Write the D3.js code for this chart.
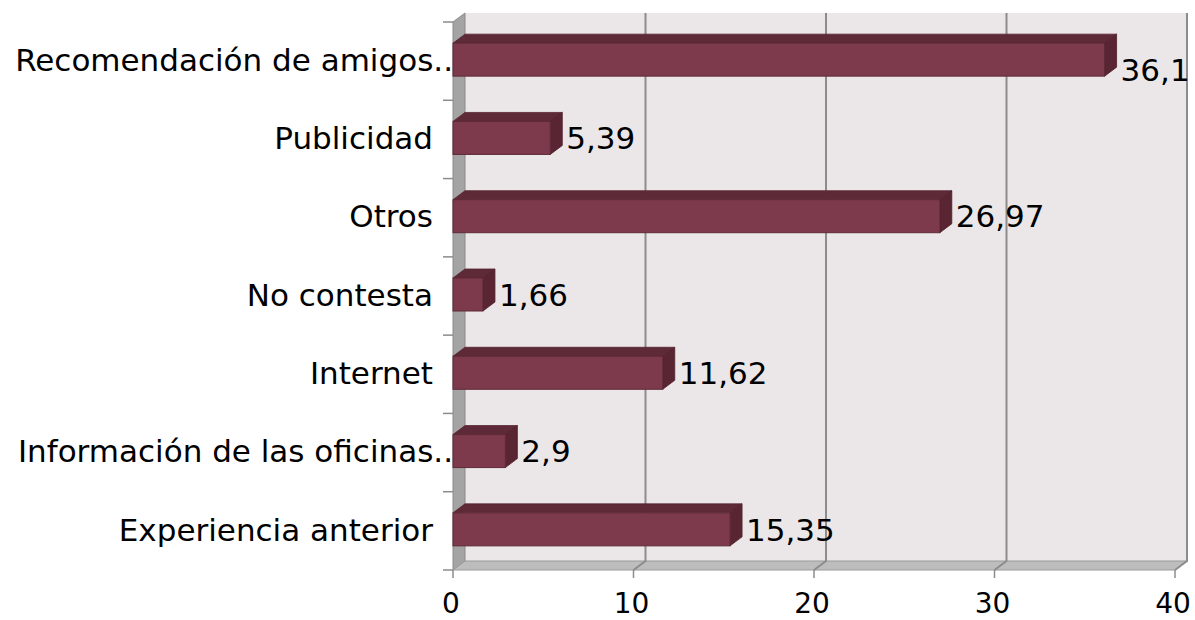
<!DOCTYPE html>
<html>
<head>
<meta charset="utf-8">
<script src="https://cdn.jsdelivr.net/npm/d3@7"></script>
<style>
  body { margin: 0; background: #fff; }
  svg { display: block; font-family: "DejaVu Sans", sans-serif; }
</style>
</head>
<body>
<svg id="chart"></svg>
<script>
// Categories, top to bottom as shown
const categories = [
  "Recomendación de amigos..",
  "Publicidad",
  "Otros",
  "No contesta",
  "Internet",
  "Información de las oficinas..",
  "Experiencia anterior"
];
const values = [36.1, 5.39, 26.97, 1.66, 11.62, 2.9, 15.35];
const valueLabels = ["36,1", "5,39", "26,97", "1,66", "11,62", "2,9", "15,35"];
const xTicks = [0, 10, 20, 30, 40];

const W = 1195, H = 620;
// front plane of the 3D box
const plotL = 453, plotR = 1175, plotT = 22, plotB = 570;
// depth offset of the walls and of the bars
const dx = 12, dy = 9;
const bx = 12, by = 9;

const svg = d3.select("#chart").attr("width", W).attr("height", H);

const x = d3.scaleLinear().domain([0, 40]).range([plotL, plotR]);
const y = d3.scaleBand().domain(categories).range([plotT, plotB]);

const pts = a => a.map(p => p.join(",")).join(" ");

// back wall
svg.append("rect")
  .attr("x", plotL + dx).attr("y", plotT - dy)
  .attr("width", plotR - plotL).attr("height", plotB - plotT)
  .attr("fill", "#ebe6e8");

// left wall
svg.append("polygon")
  .attr("points", pts([[plotL, plotT], [plotL + dx, plotT - dy], [plotL + dx, plotB - dy], [plotL, plotB]]))
  .attr("fill", "#a4a4a4")
  .attr("stroke", "#8a8a8a").attr("stroke-width", 1);

// floor
svg.append("polygon")
  .attr("points", pts([[plotL, plotB], [plotL + dx, plotB - dy], [plotR + dx, plotB - dy], [plotR, plotB]]))
  .attr("fill", "#bdbdbd")
  .attr("stroke", "#9a9a9a").attr("stroke-width", 1);

// gridlines on back wall + floor
xTicks.filter(t => t > 0).forEach(t => {
  svg.append("polyline")
    .attr("points", pts([[x(t), plotB], [x(t) + dx, plotB - dy], [x(t) + dx, plotT - dy]]))
    .attr("fill", "none")
    .attr("stroke", "#8c8c8c").attr("stroke-width", 2);
});

// y axis ticks (band boundaries)
const yBounds = categories.map(c => y(c)).concat([plotB]);
svg.selectAll(".ytick").data(yBounds).join("line")
  .attr("x1", plotL - 10).attr("x2", plotL)
  .attr("y1", d => d).attr("y2", d => d)
  .attr("stroke", "#8c8c8c").attr("stroke-width", 1.5);

// x axis ticks
svg.selectAll(".xtick").data(xTicks).join("line")
  .attr("x1", d => x(d)).attr("x2", d => x(d))
  .attr("y1", plotB).attr("y2", plotB + 8)
  .attr("stroke", "#8c8c8c").attr("stroke-width", 1.5);

svg.selectAll(".xlab").data(xTicks).join("text")
  .attr("x", d => x(d) - 2).attr("y", 613)
  .attr("text-anchor", "middle")
  .attr("font-size", 28).attr("fill", "#000")
  .text(d => d);

// bars
const barH = 33;
const data = categories.map((c, i) => ({ cat: c, v: values[i], lab: valueLabels[i] }));

const bars = svg.selectAll(".bar").data(data).join("g").attr("class", "bar");

bars.each(function(d) {
  const g = d3.select(this);
  const cy = y(d.cat) + y.bandwidth() / 2 - 1.5;
  const y0 = cy - barH / 2, y1 = cy + barH / 2;
  const x0 = x(0), x1 = x(d.v);
  // top face
  g.append("polygon")
    .attr("points", pts([[x0, y0], [x0 + bx, y0 - by], [x1 + bx, y0 - by], [x1, y0]]))
    .attr("fill", "#5f2a38").attr("stroke", "#55222f").attr("stroke-width", 0.8);
  // right face
  g.append("polygon")
    .attr("points", pts([[x1, y0], [x1 + bx, y0 - by], [x1 + bx, y1 - by], [x1, y1]]))
    .attr("fill", "#5a2532").attr("stroke", "#4e1f2b").attr("stroke-width", 0.8);
  // front face
  g.append("rect")
    .attr("x", x0).attr("y", y0)
    .attr("width", x1 - x0).attr("height", barH)
    .attr("fill", "#7c3a4c").attr("stroke", "#5e2a37").attr("stroke-width", 1);
});

// value labels
bars.append("text")
  .attr("x", d => x(d.v) + bx + 4)
  .attr("y", d => y(d.cat) + y.bandwidth() / 2 - 1.5)
  .attr("dy", "0.36em")
  .attr("font-size", 31).attr("fill", "#000")
  .text(d => d.lab)
  .each(function() {
    // labels that run past the plot edge are pushed down a little
    const bb = this.getBBox();
    if (bb.x + bb.width > plotR + dx - 5) d3.select(this).attr("y", +d3.select(this).attr("y") + 10);
  });

// category labels
svg.selectAll(".ylab").data(categories).join("text")
  .attr("y", d => y(d) + y.bandwidth() / 2 - 1.5)
  .attr("dy", "0.36em")
  .attr("font-size", 31).attr("fill", "#000")
  .text(d => d)
  .each(function() {
    const w = this.getComputedTextLength();
    const sel = d3.select(this).attr("text-anchor", "end");
    // long truncated labels run up to the wall
    sel.attr("x", 433 - w < 20 ? plotL : 433);
  });
</script>
</body>
</html>
